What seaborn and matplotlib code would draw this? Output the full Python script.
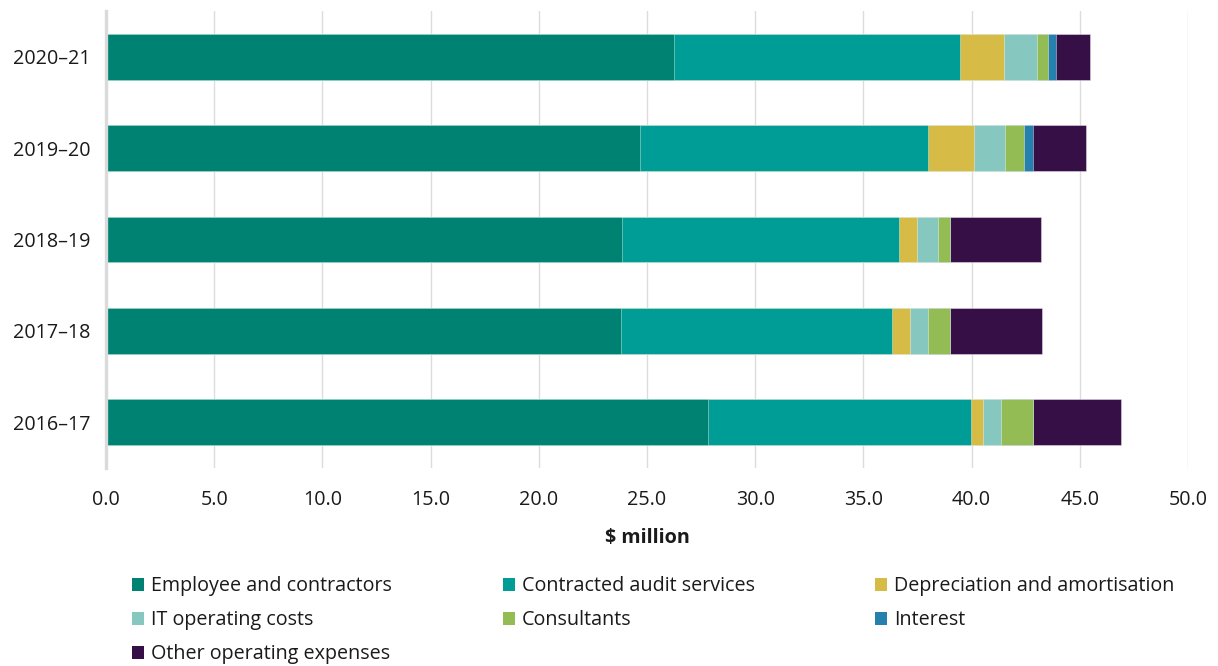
import matplotlib
matplotlib.use("Agg")
import matplotlib.pyplot as plt
from matplotlib.patches import Patch
import pandas as pd
import seaborn as sns

# Financial years, top to bottom
years = ["2020–21", "2019–20", "2018–19", "2017–18", "2016–17"]

# Expense components ($ million), one value per year in the order above
employee_contractors = [26.27, 24.69, 23.83, 23.78, 27.80]
contracted_audit = [13.18, 13.31, 12.82, 12.55, 12.17]
depreciation = [2.06, 2.12, 0.82, 0.84, 0.57]
it_operating = [1.52, 1.45, 0.98, 0.83, 0.82]
consultants = [0.50, 0.84, 0.55, 1.02, 1.49]
interest = [0.37, 0.41, 0.00, 0.00, 0.00]
other_operating = [1.58, 2.45, 4.22, 4.25, 4.06]

series_names = [
    "Employee and contractors",
    "Contracted audit services",
    "Depreciation and amortisation",
    "IT operating costs",
    "Consultants",
    "Interest",
    "Other operating expenses",
]
series_values = [employee_contractors, contracted_audit, depreciation,
                 it_operating, consultants, interest, other_operating]
series_colors = ["#008272", "#009D96", "#D6BB46", "#86C8BF",
                 "#93BC55", "#2680AD", "#360F46"]

sns.set_theme(style="white")
plt.rcParams["font.family"] = ["Open Sans", "DejaVu Sans"]
FS = 14.2

fig = plt.figure(figsize=(12.18, 6.66), dpi=100)
ax = fig.add_axes([0.0870, 0.2973, 0.8883, 0.6862])

# Stacked bars: draw running totals from the largest down so each
# component shows as its own segment
df = pd.DataFrame({"year": years})
running = [0.0] * len(years)
cumulative = []
for vals in series_values:
    running = [r + v for r, v in zip(running, vals)]
    cumulative.append(list(running))

for name, totals, color in reversed(list(zip(series_names, cumulative, series_colors))):
    df["total"] = totals
    sns.barplot(data=df, x="total", y="year", order=years, orient="h",
                color=color, saturation=1, width=0.5,
                edgecolor=(1, 1, 1, 0.45), linewidth=0.6, ax=ax, zorder=3)

ax.set_xlim(0, 50)
ax.set_ylim(4.5, -0.5)
ticks = [0, 5, 10, 15, 20, 25, 30, 35, 40, 45, 50]
ax.set_xticks(ticks)
ax.set_xticklabels([f"{t:.1f}" for t in ticks])
ax.xaxis.grid(True, color="#DCDCDC", linewidth=1.0, zorder=0)
ax.yaxis.grid(False)
ax.set_axisbelow(True)

for side in ["top", "right", "bottom"]:
    ax.spines[side].set_visible(False)
ax.spines["left"].set_color("#DADADA")
ax.spines["left"].set_linewidth(2.4)
ax.spines["left"].set_zorder(5)

ax.tick_params(axis="x", length=0, pad=16, labelsize=FS, colors="#1a1a1a")
ax.tick_params(axis="y", length=0, pad=11, labelsize=FS, colors="#1a1a1a")
ax.set_ylabel("")
ax.set_xlabel(r"\$ million", fontsize=FS, fontweight="bold",
              color="#1a1a1a", labelpad=13)

# Legend: three columns, filled row by row, each column placed on its own
handles = [Patch(facecolor=c, edgecolor="none") for c in series_colors]
columns = [[0, 3, 6], [1, 4], [2, 5]]
column_x = [0.1084, 0.4130, 0.7185]
for idx, x0 in zip(columns, column_x):
    leg = fig.legend([handles[i] for i in idx], [series_names[i] for i in idx],
                     loc="upper left", bbox_to_anchor=(x0, 0.135),
                     frameon=False, fontsize=FS, handlelength=0.62,
                     handleheight=0.62, handletextpad=0.32,
                     labelspacing=0.72, borderaxespad=0, borderpad=0)
    for t in leg.get_texts():
        t.set_color("#1a1a1a")

fig.savefig("out.png", dpi=100, facecolor="white")
